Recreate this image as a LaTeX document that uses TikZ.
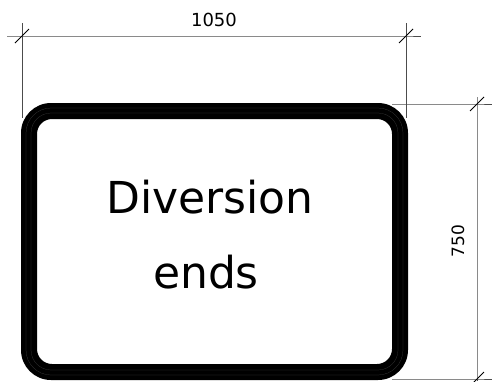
\documentclass[tikz,border=0pt]{standalone}
\usepackage{fontspec}
\setmainfont{DejaVu Sans}
\usetikzlibrary{positioning}
\tikzset{dimline/.style={draw=black!70, line width=0.9pt},
         dimtick/.style={draw=black, line width=0.9pt},
         hatch/.style={draw=black!75, line width=0.2pt},
         dimtext/.style={font=\fontsize{18}{20}\selectfont, inner sep=0pt},
         signtext/.style={font=\fontsize{44}{50}\selectfont, inner sep=0pt, anchor=base}}

\begin{document}
\begin{tikzpicture}[x=1pt, y=-1pt]
    \useasboundingbox (0,0) rectangle (492,381);
    % sign
    \fill[black, even odd rule, rounded corners=30] (21,103) rectangle (408,380)
        [rounded corners=15] (37,119) rectangle (392,364);
    \draw[hatch, rounded corners=25] (26,108) rectangle (403,375);
    \draw[hatch, rounded corners=20] (31,113) rectangle (398,370);
    \node[signtext] (l1) at (210,213) {Diversion};
    \node[signtext] (l2) at (206,288) {ends};
    % dimension points
    \coordinate (wl) at (22,36);
    \coordinate (wr) at (406,36);
    \coordinate (ht) at (477,104);
    \coordinate (hb) at (477,379);
    \draw[dimline] (wl) ++(-15,0) coordinate (wl0) -- (wr) -- ++(15,0) coordinate (wr0);
    \draw[dimline] (wl) ++(0,-13) -- (wl |- 0,118);
    \draw[dimline] (wr) ++(0,-13) -- (wr |- 0,118);
    \draw[dimline] (ht) ++(0,-7) -- (hb) -- (hb |- 0,381);
    \draw[dimline] (ht -| 392,0) -- (ht) -- (ht -| 492,0);
    \draw[dimline] (hb -| 392,0) -- (hb) -- (hb -| 492,0);
    \foreach \p in {wl, wr, ht, hb}
        \draw[dimtick] (\p) ++(-7,7) -- ++(14,-14);
    \node[dimtext, anchor=base] (w) at (214,26) {1050};
    \node[dimtext, anchor=base, rotate=90, font=\fontsize{17}{20}\selectfont] (h) at (464,241) {750};
\end{tikzpicture}
\end{document}
